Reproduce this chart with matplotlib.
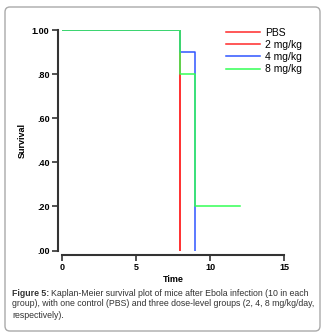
import matplotlib
matplotlib.use("Agg")
import matplotlib.pyplot as plt
from matplotlib.patches import FancyBboxPatch

plt.rcParams['font.family'] = ['Liberation Sans', 'DejaVu Sans']

# Kaplan-Meier curves (time, survival) as step points
groups = ['PBS', '2 mg/kg', '4 mg/kg', '8 mg/kg']
colors = ['#ff2a2a', '#ff2a2a', '#2f55ff', '#33ff55']
times = [
    [0, 8, 8],
    [0, 8, 8],
    [0, 8, 8, 9, 9],
    [0, 8, 8, 9, 9, 12],
]
survival = [
    [1.0, 1.0, 0.0],
    [1.0, 1.0, 0.0],
    [1.0, 1.0, 0.9, 0.9, 0.0],
    [1.0, 1.0, 0.8, 0.8, 0.2, 0.2],
]
xticks = [0, 5, 10, 15]
yticks = [0.0, 0.2, 0.4, 0.6, 0.8, 1.0]
ytick_labels = ['.00', '.20', '.40', '.60', '.80', '1.00']

W, H = 325, 336
fig = plt.figure(figsize=(W / 100, H / 100), dpi=100)

# rounded frame around the figure
frame = FancyBboxPatch((5 / W, 5 / H), 315 / W, 324 / H,
                       boxstyle="round,pad=0,rounding_size=0.015",
                       transform=fig.transFigure, fill=False,
                       edgecolor='#aaaaaa', linewidth=1.0)
fig.patches.append(frame)

ax = fig.add_axes([62 / W, (H - 250.5) / H, 222 / W, 220.5 / H])
for t, s, c, g in zip(times, survival, colors, groups):
    ax.plot(t, s, color=c, lw=1.1, label=g)

ax.set_xlim(0, 15)
ax.set_ylim(0, 1)
ax.set_xticks(xticks)
ax.set_yticks(yticks)
ax.set_yticklabels(ytick_labels)
for sp in ['top', 'right']:
    ax.spines[sp].set_visible(False)
ax.spines['left'].set_position(('outward', 3))
ax.spines['bottom'].set_position(('outward', 3.3))
for sp in ['left', 'bottom']:
    ax.spines[sp].set_linewidth(1.5)
    ax.spines[sp].set_color('#333333')
ax.tick_params(direction='out', length=4, width=1.2, color='#333333',
               labelsize=6.5, pad=2)
for lab in ax.get_xticklabels() + ax.get_yticklabels():
    lab.set_fontweight('bold')
ax.set_xlabel('Time', fontsize=6.5, fontweight='bold', labelpad=2)
ax.set_ylabel('Survival', fontsize=6.5, fontweight='bold', labelpad=4)

ax.legend(loc='upper left', bbox_to_anchor=(226 / W, 1 - 27.5 / H),
          bbox_transform=fig.transFigure, frameon=False,
          fontsize=7.5, handlelength=3.3, handletextpad=0.45,
          labelspacing=0.22, borderpad=0, borderaxespad=0)

# caption
fs = 6.3
col = '#333333'
fig.canvas.draw()
r = fig.canvas.get_renderer()
t0 = fig.text(12 / W, 1 - 293 / H, 'Figure 5:', fontsize=fs, fontweight='bold',
              color=col, va='center')
bb = t0.get_window_extent(renderer=r)
fig.text(bb.x1 / W + 2 / W, 1 - 293 / H,
         'Kaplan-Meier survival plot of mice after Ebola infection (10 in each',
         fontsize=fs, color=col, va='center')
fig.text(12 / W, 1 - 304 / H,
         'group), with one control (PBS) and three dose-level groups (2, 4, 8 mg/kg/day,',
         fontsize=fs, color=col, va='center')
fig.text(12 / W, 1 - 315 / H, 'respectively).', fontsize=fs, color=col, va='center')

fig.savefig('out.png', dpi=100)
